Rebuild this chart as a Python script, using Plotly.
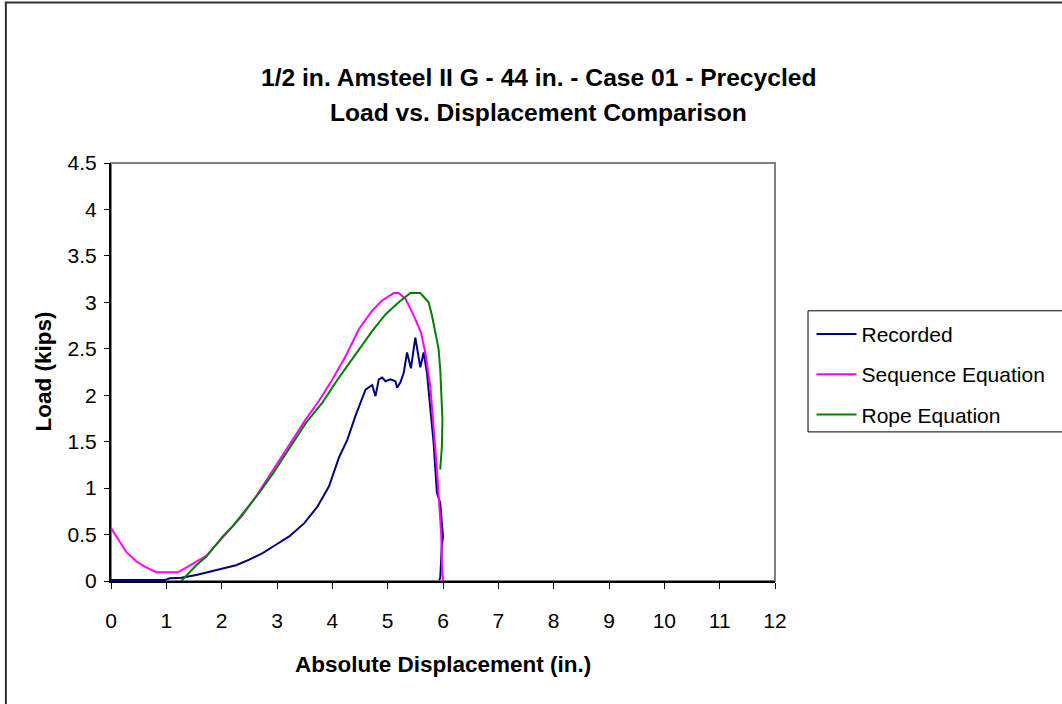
import plotly.graph_objects as go

# ---- data ----
rec_x = [0.0, 0.97, 1.06, 1.27, 1.54, 1.78, 2.02, 2.26, 2.50, 2.74, 2.98, 3.22, 3.49, 3.73, 3.94,
         4.12, 4.27, 4.42, 4.60, 4.72, 4.78, 4.84, 4.90, 4.96, 5.05, 5.14, 5.17, 5.23, 5.29, 5.35,
         5.42, 5.50, 5.59, 5.65, 5.71, 5.77, 5.83, 5.89, 5.95, 5.98, 6.00, 5.98, 5.97, 5.95, 5.93]
rec_y = [0.01, 0.01, 0.03, 0.036, 0.065, 0.10, 0.137, 0.17, 0.23, 0.30, 0.39, 0.48, 0.62, 0.80, 1.02,
         1.33, 1.52, 1.78, 2.06, 2.11, 1.99, 2.17, 2.19, 2.15, 2.17, 2.15, 2.08, 2.14, 2.24, 2.46,
         2.29, 2.62, 2.30, 2.46, 2.24, 1.85, 1.49, 0.95, 0.84, 0.62, 0.48, 0.39, 0.19, 0.03, 0.01]

seq_x = [0.0, 0.28, 0.46, 0.61, 0.82, 1.0, 1.21, 1.39, 1.6, 1.72, 1.87, 2.14, 2.38, 2.62, 2.86,
         3.07, 3.28, 3.52, 3.76, 4.0, 4.24, 4.48, 4.72, 4.9, 5.11, 5.2, 5.32, 5.47, 5.6, 5.68,
         5.77, 5.83, 5.89, 5.93, 5.97, 5.98, 6.0]
seq_y = [0.57, 0.31, 0.21, 0.155, 0.094, 0.094, 0.094, 0.155, 0.23, 0.27, 0.37, 0.55, 0.71, 0.91, 1.13,
         1.33, 1.51, 1.74, 1.94, 2.17, 2.42, 2.71, 2.91, 3.02, 3.10, 3.10, 3.04, 2.86, 2.68, 2.46,
         2.10, 1.67, 1.20, 0.84, 0.48, 0.19, 0.0]

rope_x = [1.27, 1.36, 1.54, 1.72, 1.87, 2.02, 2.20, 2.44, 2.68, 2.92, 3.22, 3.52, 3.82, 4.12, 4.42,
          4.72, 4.96, 5.2, 5.41, 5.59, 5.74, 5.80, 5.86, 5.92, 5.95, 5.98, 5.99, 5.98, 5.95]
rope_y = [0.0, 0.054, 0.17, 0.26, 0.37, 0.48, 0.59, 0.77, 0.95, 1.15, 1.42, 1.70, 1.92, 2.19, 2.44,
          2.69, 2.87, 3.0, 3.10, 3.10, 3.0, 2.86, 2.68, 2.50, 2.28, 1.92, 1.74, 1.45, 1.20]

series_names = ["Recorded", "Sequence Equation", "Rope Equation"]
series_colors = ["#000080", "#FF00FF", "#008000"]

x_ticks = list(range(0, 13))
y_ticks = [0, 0.5, 1, 1.5, 2, 2.5, 3, 3.5, 4, 4.5]
y_tick_text = ["0", "0.5", "1", "1.5", "2", "2.5", "3", "3.5", "4", "4.5"]

title_line1 = "1/2 in. Amsteel II G - 44 in. - Case 01 - Precycled"
title_line2 = "Load vs. Displacement Comparison"
x_title = "Absolute Displacement (in.)"
y_title = "Load (kips)"

# ---- figure ----
W, H = 1062, 704
L, R, T, B = 110.7, 778.3, 163.3, 581.0
pw, ph = R - L, B - T


def px_x(p):
    return (p - L) / pw


def px_y(p):
    return (B - p) / ph


BOLD = "Liberation Sans, Arial, sans-serif"
REG = "Liberation Sans, Arial, sans-serif"

fig = go.Figure()
for i, (xs, ys) in enumerate([(rec_x, rec_y), (seq_x, seq_y), (rope_x, rope_y)]):
    fig.add_trace(go.Scatter(x=xs, y=ys, mode="lines", name=series_names[i],
                             legendgroup=series_names[i],
                             line=dict(color=series_colors[i], width=2)))

fig.update_layout(
    width=W, height=H,
    margin=dict(l=L, r=W - R, t=T, b=H - B, pad=0),
    paper_bgcolor="white", plot_bgcolor="white",
    showlegend=True,
    legend=dict(x=px_x(815), y=px_y(314), xanchor="left", yanchor="top",
                font=dict(family=REG, size=21, color="black"),
                bgcolor="rgba(0,0,0,0)", borderwidth=0, tracegroupgap=10,
                itemwidth=40),
    xaxis=dict(range=[0, 12], tickvals=x_ticks, ticktext=[str(v) for v in x_ticks],
               showgrid=False, zeroline=False, showline=True, linecolor="black", linewidth=2,
               ticks="outside", ticklen=6, tickcolor="black", tickwidth=1,
               ticklabelstandoff=14,
               tickfont=dict(family=REG, size=21, color="black")),
    yaxis=dict(range=[0, 4.5], tickvals=y_ticks, ticktext=y_tick_text,
               showgrid=False, zeroline=False, showline=True, linecolor="black", linewidth=2,
               ticks="outside", ticklen=5, tickcolor="black", tickwidth=1,
               ticklabelstandoff=3,
               tickfont=dict(family=REG, size=21, color="black")),
)

# plot frame (gray) and outer chart border, legend box
fig.add_shape(type="rect", xref="paper", yref="paper", x0=0, y0=0, x1=1, y1=1,
              line=dict(color="#808080", width=2), layer="below")
fig.add_shape(type="rect", xref="paper", yref="paper",
              x0=px_x(5), y0=px_y(712), x1=px_x(1075), y1=px_y(3),
              line=dict(color="#303030", width=2), layer="below")
fig.add_shape(type="rect", xref="paper", yref="paper",
              x0=px_x(811.5), y0=px_y(432), x1=px_x(1075), y1=px_y(311),
              line=dict(color="black", width=1), layer="below")

fig.add_annotation(text="<b>" + title_line1 + "</b>", xref="paper", yref="paper",
                   x=px_x(541), y=px_y(78), showarrow=False, xanchor="center", yanchor="middle",
                   font=dict(family=BOLD, size=24.6, color="black"))
fig.add_annotation(text="<b>" + title_line2 + "</b>", xref="paper", yref="paper",
                   x=px_x(541), y=px_y(113), showarrow=False, xanchor="center", yanchor="middle",
                   font=dict(family=BOLD, size=24.6, color="black"))
fig.add_annotation(text="<b>" + x_title + "</b>", xref="paper", yref="paper",
                   x=px_x(444), y=px_y(664), showarrow=False, xanchor="center", yanchor="middle",
                   font=dict(family=BOLD, size=22.5, color="black"))
fig.add_annotation(text="<b>" + y_title + "</b>", xref="paper", yref="paper",
                   x=px_x(43), y=px_y(372), showarrow=False, xanchor="center", yanchor="middle",
                   textangle=-90,
                   font=dict(family=BOLD, size=22.5, color="black"))

fig.write_html("out.html", post_script="document.body.style.margin='0';",
               config={"displayModeBar": False})
